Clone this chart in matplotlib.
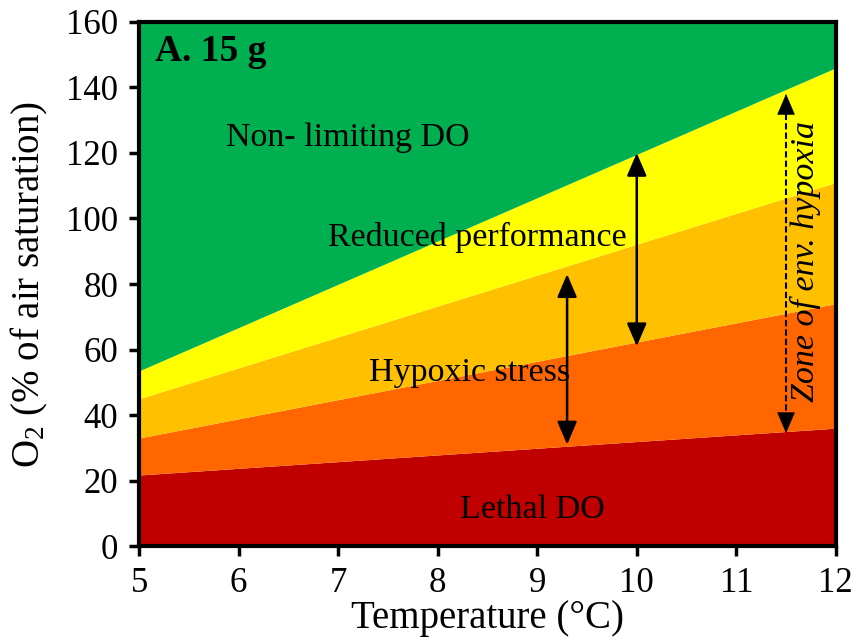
import numpy as np
import matplotlib.pyplot as plt

plt.rcParams['font.family'] = ['Liberation Serif', 'DejaVu Serif']
plt.rcParams['mathtext.fontset'] = 'custom'
plt.rcParams['mathtext.rm'] = 'Liberation Serif'

# temperature range and zone boundaries (% air saturation)
temp = [5, 12]
lethal_top = [21.7, 36]        # lethal DO / hypoxic stress (lower)
stress_top = [33, 74]          # orange / light orange
reduced_low = [45, 111]        # light orange / yellow
nonlim_low = [53.5, 146]       # yellow / green
y_max = 160

# arrows: (temperature, low, high)
arrow_solid = [(9.3, 31, 83), (10.0, 61, 120)]
arrow_dashed = (11.5, 34.5, 138)

colors = ['#C00000', '#FF6600', '#FFC000', '#FFFF00', '#00B050']

fig = plt.figure(figsize=(8.59, 6.44), dpi=100)
ax = fig.add_axes([0.162, 0.152, 0.811, 0.814])

bottom = [0, 0]
layers = [lethal_top, stress_top, reduced_low, nonlim_low, [y_max, y_max]]
for top, c in zip(layers, colors):
    ax.fill_between(temp, bottom, top, color=c, lw=0)
    bottom = top

sizes = ',head_length=1.4,head_width=0.6'
for x, lo, hi in arrow_solid:
    ax.annotate('', xy=(x, hi), xytext=(x, lo),
                arrowprops=dict(arrowstyle='<|-|>' + sizes,
                                color='black', lw=1.8, shrinkA=0, shrinkB=0))

x, lo, hi = arrow_dashed
ax.plot([x, x], [lo + 4, hi - 4], color='black', lw=1.5, ls=(0, (3, 1.5)))
for a, b in [(lo + 6, lo), (hi - 6, hi)]:
    ax.annotate('', xy=(x, b), xytext=(x, a),
                arrowprops=dict(arrowstyle='-|>' + sizes,
                                color='black', lw=0.5, shrinkA=0, shrinkB=0))

ax.text(5.16, 151, 'A. 15 g', fontsize=27, fontweight='bold', va='center', ha='left')
ax.text(7.1, 124.5, 'Non- limiting DO', fontsize=24.5, ha='center', va='center')
ax.text(8.4, 94.3, 'Reduced performance', fontsize=24.5, ha='center', va='center')
ax.text(8.32, 53, 'Hypoxic stress', fontsize=24.5, ha='center', va='center')
ax.text(8.95, 11, 'Lethal DO', fontsize=24.5, ha='center', va='center')
ax.text(11.7, 87, 'Zone of env. hypoxia', fontsize=24.5, style='italic',
        rotation=90, ha='center', va='center')

ax.set_xlim(5, 12)
ax.set_ylim(0, y_max)
ax.set_xticks(range(5, 13))
ax.set_yticks(range(0, 161, 20))
ax.tick_params(direction='out', length=7, width=2.5, labelsize=25, pad=8)
for s in ax.spines.values():
    s.set_linewidth(3)

ax.set_xlabel('Temperature (°C)', fontsize=28, labelpad=0)
ax.set_ylabel(r'$\mathrm{O_2}$ (% of air saturation)', fontsize=28, labelpad=12)

fig.savefig('out.png', dpi=100)
